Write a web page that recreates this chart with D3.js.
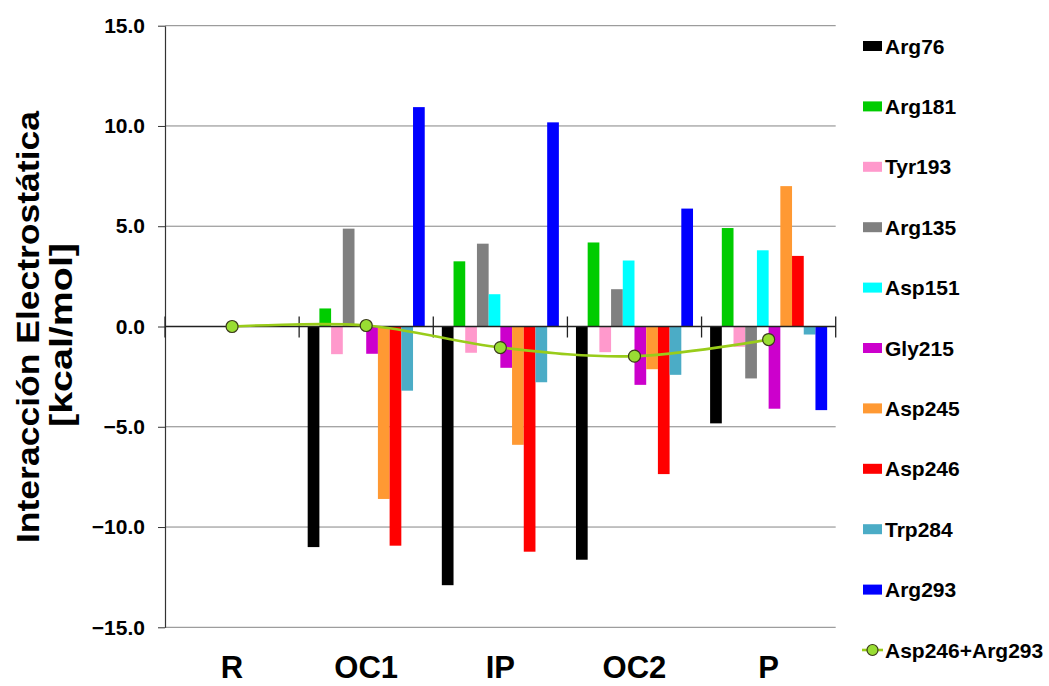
<!DOCTYPE html>
<html>
<head>
<meta charset="utf-8">
<script src="https://cdn.jsdelivr.net/npm/d3@7"></script>
<style>
  html, body { margin: 0; padding: 0; background: #fff; }
  svg { display: block; font-family: "Liberation Sans", Arial, sans-serif; }
</style>
</head>
<body>
<svg id="chart" width="1049" height="686"></svg>
<script>
const categories = ["R", "OC1", "IP", "OC2", "P"];
const seriesNames = ["Arg76", "Arg181", "Tyr193", "Arg135", "Asp151", "Gly215", "Asp245", "Asp246", "Trp284", "Arg293"];
const seriesColors = ["#000000", "#00cc00", "#ff99cc", "#808080", "#00ffff", "#cc00cc", "#ff9933", "#ff0000", "#4bacc6", "#0000ff"];
const arg76  = [0, -11.00, -12.90, -11.63, -4.83];
const arg181 = [0,   0.90,   3.25,   4.19,  4.91];
const tyr193 = [0,  -1.38,  -1.31,  -1.28, -1.01];
const arg135 = [0,   4.88,   4.13,   1.86, -2.59];
const asp151 = [0,   0.00,   1.61,   3.29,  3.80];
const gly215 = [0,  -1.36,  -2.06,  -2.91, -4.10];
const asp245 = [0,  -8.60,  -5.90,  -2.13,  7.00];
const asp246 = [0, -10.93, -11.23,  -7.36,  3.52];
const trp284 = [0,  -3.20,  -2.78,  -2.41, -0.40];
const arg293 = [0,  10.94,  10.18,   5.88, -4.17];
const lineName = "Asp246+Arg293";
const lineValues = [0.00, 0.05, -1.05, -1.48, -0.65];
const yTicks = [-15, -10, -5, 0, 5, 10, 15];
const yTitle1 = "Interacción Electrostática";
const yTitle2 = "[kcal/mol]";

const seriesValues = [arg76, arg181, tyr193, arg135, asp151, gly215, asp245, asp246, trp284, arg293];

const svg = d3.select("#chart");
const plotLeft = 165, plotRight = 835.7, plotTop = 25.7, plotBottom = 627.3;

const x = d3.scaleBand().domain(categories).range([plotLeft, plotRight]).padding(0);
const xs = d3.scaleBand().domain(seriesNames).range([0, x.bandwidth()]).paddingInner(0).paddingOuter(0.73);
const y = d3.scaleLinear().domain([-15, 15]).range([plotBottom, plotTop]);

// gridlines
svg.append("g").selectAll("line").data(yTicks.filter(d => d !== 0)).join("line")
  .attr("x1", plotLeft).attr("x2", plotRight)
  .attr("y1", d => y(d)).attr("y2", d => y(d))
  .attr("stroke", "#858585").attr("stroke-width", 1);

// bars
const bars = [];
seriesNames.forEach((s, si) => {
  categories.forEach((c, ci) => {
    const v = seriesValues[si][ci];
    if (v !== 0) bars.push({ s, c, v, color: seriesColors[si] });
  });
});
svg.append("g").selectAll("rect").data(bars).join("rect")
  .attr("x", d => x(d.c) + xs(d.s))
  .attr("width", xs.bandwidth())
  .attr("y", d => Math.min(y(d.v), y(0)))
  .attr("height", d => Math.abs(y(d.v) - y(0)))
  .attr("fill", d => d.color);

// y axis
const yAxis = d3.axisLeft(y).tickValues(yTicks).tickFormat(d3.format(".1f")).tickSizeOuter(0).tickSizeInner(7).tickPadding(13);
const yg = svg.append("g").attr("transform", `translate(${plotLeft},0)`).call(yAxis);
yg.select(".domain").attr("stroke", "#333").attr("stroke-width", 1.2);
yg.selectAll(".tick line").attr("stroke", "#333");
yg.selectAll(".tick text").attr("font-size", 21).attr("font-weight", "bold").attr("fill", "#000")
  .attr("font-family", "Liberation Sans, Arial, sans-serif");

// zero axis line with category boundary ticks
svg.append("line").attr("x1", plotLeft).attr("x2", plotRight).attr("y1", y(0)).attr("y2", y(0))
  .attr("stroke", "#222").attr("stroke-width", 1.3);
const boundaries = categories.map(c => x(c)).concat([plotRight]);
svg.append("g").selectAll("line").data(boundaries).join("line")
  .attr("x1", d => d).attr("x2", d => d)
  .attr("y1", y(0) - 10).attr("y2", y(0) + 11)
  .attr("stroke", "#222").attr("stroke-width", 1.3);

// x labels
svg.append("g").selectAll("text").data(categories).join("text")
  .attr("x", d => x(d) + x.bandwidth() / 2)
  .attr("y", 678)
  .attr("text-anchor", "middle")
  .attr("font-size", 31).attr("font-weight", "bold")
  .text(d => d);

// line series
const linePts = categories.map((c, i) => ({ c, v: lineValues[i] }));
const lineGen = d3.line().x(d => x(d.c) + x.bandwidth() / 2).y(d => y(d.v)).curve(d3.curveCatmullRom.alpha(0.5));
svg.append("path").datum(linePts).attr("d", lineGen)
  .attr("fill", "none").attr("stroke", "#99cc1a").attr("stroke-width", 2.6);
svg.append("g").selectAll("circle").data(linePts).join("circle")
  .attr("cx", d => x(d.c) + x.bandwidth() / 2).attr("cy", d => y(d.v)).attr("r", 6)
  .attr("fill", "#99dd33").attr("stroke", "#3a3a1a").attr("stroke-width", 1.2);

// y title
const tg = svg.append("g");
tg.append("text").attr("transform", "translate(39,327) rotate(-90)")
  .attr("text-anchor", "middle").attr("font-size", 32).attr("font-weight", "bold")
  .attr("textLength", 432).attr("lengthAdjust", "spacingAndGlyphs")
  .text(yTitle1);
tg.append("text").attr("transform", "translate(72,335) rotate(-90)")
  .attr("text-anchor", "middle").attr("font-size", 32).attr("font-weight", "bold")
  .attr("textLength", 184).attr("lengthAdjust", "spacingAndGlyphs")
  .text(yTitle2);

// legend
const legY = d3.scaleLinear().domain([0, 10]).range([46, 650]);
const legItems = seriesNames.map((s, i) => ({ name: s, color: seriesColors[i], type: "bar", i }))
  .concat([{ name: lineName, type: "line", i: 10 }]);
const lg = svg.append("g");
legItems.forEach(d => {
  const cy = legY(d.i);
  if (d.type === "bar") {
    lg.append("rect").attr("x", 863).attr("y", cy - 5).attr("width", 19).attr("height", 10).attr("fill", d.color);
  } else {
    lg.append("line").attr("x1", 862).attr("x2", 883).attr("y1", cy).attr("y2", cy)
      .attr("stroke", "#99cc1a").attr("stroke-width", 2.6);
    lg.append("circle").attr("cx", 872.5).attr("cy", cy).attr("r", 5.5)
      .attr("fill", "#99dd33").attr("stroke", "#3a3a1a").attr("stroke-width", 1.2);
  }
  lg.append("text").attr("x", 885).attr("y", cy).attr("dy", "0.36em")
    .attr("font-size", 21).attr("font-weight", "bold").text(d.name);
});
</script>
</body>
</html>
